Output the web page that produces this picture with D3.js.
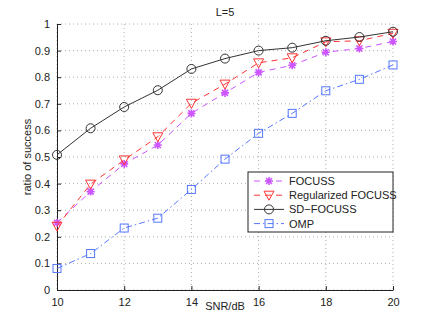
<!DOCTYPE html>
<html>
<head>
<meta charset="utf-8">
<script src="https://cdn.jsdelivr.net/npm/d3@7"></script>
<style>
  body { margin: 0; background: #fff; }
  text { font-family: "Liberation Sans", Arial, sans-serif; fill: #222; }
</style>
</head>
<body>
<svg id="chart"></svg>
<script>
var snr = [10, 11, 12, 13, 14, 15, 16, 17, 18, 19, 20];
var focuss    = [0.253, 0.370, 0.474, 0.545, 0.664, 0.741, 0.818, 0.845, 0.894, 0.908, 0.934];
var regFocuss = [0.240, 0.398, 0.489, 0.576, 0.702, 0.774, 0.854, 0.873, 0.933, 0.937, 0.965];
var sdFocuss  = [0.508, 0.608, 0.688, 0.751, 0.831, 0.870, 0.900, 0.911, 0.937, 0.951, 0.971];
var omp       = [0.081, 0.137, 0.233, 0.270, 0.378, 0.492, 0.589, 0.664, 0.749, 0.792, 0.846];
var xTicks = [10, 12, 14, 16, 18, 20];
var yTicks = [0, 0.1, 0.2, 0.3, 0.4, 0.5, 0.6, 0.7, 0.8, 0.9, 1];

var margin = {top: 24, right: 42, bottom: 37, left: 57};
var width = 435, height = 327;
var w = width - margin.left - margin.right;
var h = height - margin.top - margin.bottom;

var svg = d3.select("#chart").attr("width", width).attr("height", height);
var g = svg.append("g").attr("transform", "translate(" + margin.left + "," + margin.top + ")");

var x = d3.scaleLinear().domain([10, 20]).range([0, w]);
var y = d3.scaleLinear().domain([0, 1]).range([h, 0]);

// grid
g.selectAll(".gx").data(xTicks).enter().append("line")
  .attr("x1", d => x(d)).attr("x2", d => x(d)).attr("y1", 0).attr("y2", h)
  .attr("stroke", "#999").attr("stroke-width", 0.8).attr("stroke-dasharray", "1,3");
g.selectAll(".gy").data(yTicks).enter().append("line")
  .attr("y1", d => y(d)).attr("y2", d => y(d)).attr("x1", 0).attr("x2", w)
  .attr("stroke", "#999").attr("stroke-width", 0.8).attr("stroke-dasharray", "1,3");

// axes
var xAxis = g.append("g").attr("transform", "translate(0," + h + ")")
  .call(d3.axisBottom(x).tickValues(xTicks).tickSizeInner(-4).tickSizeOuter(0).tickPadding(8));
var yAxis = g.append("g")
  .call(d3.axisLeft(y).tickValues(yTicks).tickFormat(d => d === 0 || d === 1 ? d : d3.format(".1f")(d))
    .tickSizeInner(-4).tickSizeOuter(0).tickPadding(7));
[xAxis, yAxis].forEach(function (a) {
  a.select(".domain").attr("stroke", "#222");
  a.selectAll(".tick line").attr("stroke", "#222");
  a.selectAll("text").attr("font-size", 11).attr("fill", "#222")
    .attr("font-family", "Liberation Sans, Arial, sans-serif");
});

var series = [
  {name: "FOCUSS", values: focuss, color: "#cc55ff", dash: "6,5", marker: "star"},
  {name: "Regularized FOCUSS", values: regFocuss, color: "#ff3333", dash: "6,5", marker: "tri"},
  {name: "SD\u2212FOCUSS", values: sdFocuss, color: "#333", dash: null, marker: "circle"},
  {name: "OMP", values: omp, color: "#5577ff", dash: "6,3,1.5,3", marker: "square"}
];

var line = d3.line().x(d => x(d[0])).y(d => y(d[1]));

function drawMarker(sel, type, color) {
  if (type === "circle") {
    sel.append("circle").attr("r", 4.5).attr("fill", "none").attr("stroke", color).attr("stroke-width", 1);
  } else if (type === "tri") {
    sel.append("path").attr("d", "M-5,-4L5,-4L0,5Z").attr("fill", "none").attr("stroke", color).attr("stroke-width", 1);
  } else if (type === "square") {
    sel.append("rect").attr("x", -4).attr("y", -4).attr("width", 8).attr("height", 8)
      .attr("fill", "none").attr("stroke", color).attr("stroke-width", 1);
  } else {
    sel.append("path").attr("d", "M-4,0L4,0M0,-4L0,4M-3,-3L3,3M-3,3L3,-3")
      .attr("stroke", color).attr("stroke-width", 1.6);
  }
}

series.forEach(function (s) {
  var pts = snr.map((v, i) => [v, s.values[i]]);
  g.append("path").datum(pts).attr("d", line).attr("fill", "none")
    .attr("stroke", s.color).attr("stroke-width", 1)
    .attr("stroke-dasharray", s.dash);
  g.selectAll(null).data(pts).enter().append("g")
    .attr("transform", d => "translate(" + x(d[0]) + "," + y(d[1]) + ")")
    .each(function () { drawMarker(d3.select(this), s.marker, s.color); });
});

// legend (top-right inside plot, near 0.35..0.44)
var lg = g.append("g").attr("transform", "translate(" + (w - 145) + ",148)");
lg.append("rect").attr("width", 145).attr("height", 60).attr("fill", "#fff")
  .attr("stroke", "#222").attr("stroke-width", 1);
series.forEach(function (s, i) {
  var row = lg.append("g").attr("transform", "translate(0," + (9 + i * 14.2) + ")");
  row.append("line").attr("x1", 6).attr("x2", 36).attr("stroke", s.color)
    .attr("stroke-width", 1).attr("stroke-dasharray", s.dash);
  var m = row.append("g").attr("transform", "translate(21,0)");
  drawMarker(m, s.marker, s.color);
  row.append("text").attr("x", 41).attr("y", 4).attr("font-size", 11).text(s.name);
});

// labels
svg.append("text").attr("x", margin.left + w / 2).attr("y", 16).attr("text-anchor", "middle")
  .attr("font-size", 11).text("L=5");
svg.append("text").attr("x", margin.left + w / 2).attr("y", 310).attr("text-anchor", "middle")
  .attr("font-size", 11).text("SNR/dB");
svg.append("text").attr("transform", "translate(31," + (margin.top + h / 2) + ") rotate(-90)")
  .attr("text-anchor", "middle").attr("font-size", 11).text("ratio of success");
</script>
</body>
</html>
